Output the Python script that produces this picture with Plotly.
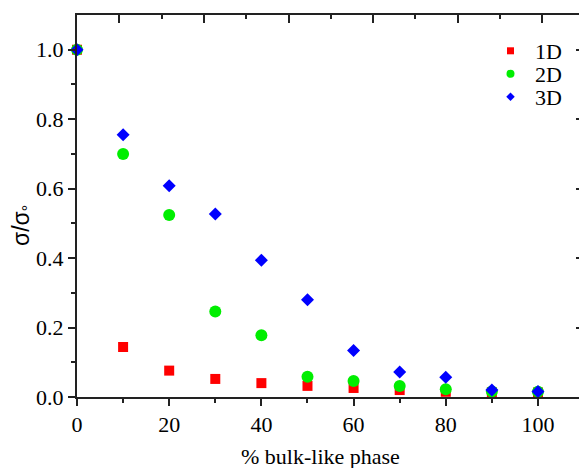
import plotly.graph_objects as go

x_vals = [0, 10, 20, 30, 40, 50, 60, 70, 80, 90, 100]
y_1d = [1.0, 0.144, 0.076, 0.052, 0.040, 0.032, 0.026, 0.020, 0.015, 0.013, 0.013]
y_2d = [1.0, 0.700, 0.524, 0.246, 0.178, 0.058, 0.046, 0.032, 0.022, 0.016, 0.015]
y_3d = [1.0, 0.755, 0.608, 0.527, 0.394, 0.280, 0.134, 0.072, 0.057, 0.020, 0.016]
series_names = ["1D", "2D", "3D"]
colors = ["#ff0000", "#00ee00", "#0000ff"]
symbols = ["square", "circle", "diamond"]
sizes = [10, 12, 10]
legend_sizes = [7, 8, 6.5]

W, H = 579, 468
L, R, T, B = 77, 0, 15, 71
pw = W - L - R
ph = H - T - B


def px_x(px):
    return (px - L) / pw


def px_y(py):
    return (H - B - py) / ph


font_serif = "Liberation Serif"
legend_names = ["legend", "legend2", "legend3"]
legend_rows = [51, 74, 97]

fig = go.Figure()
for name, ys, c, s, sz in zip(series_names, [y_1d, y_2d, y_3d], colors, symbols, sizes):
    fig.add_trace(go.Scatter(x=x_vals, y=ys, mode="markers", name=name, showlegend=False,
                             marker=dict(color=c, symbol=s, size=sz, line=dict(width=0)),
                             cliponaxis=False))
# legend entries (no data) with the smaller legend symbols
for name, c, s, lsz, lg in zip(series_names, colors, symbols, legend_sizes, legend_names):
    fig.add_trace(go.Scatter(x=[None], y=[None], mode="markers", name=name, legend=lg,
                             marker=dict(color=c, symbol=s, size=lsz, line=dict(width=0))))

fig.add_trace(go.Scatter(x=[0], y=[0], xaxis="x2", yaxis="y2", mode="markers",
                         marker=dict(opacity=0), showlegend=False, hoverinfo="skip"))

legend_layout = {}
for lg, row in zip(legend_names, legend_rows):
    legend_layout[lg] = dict(x=px_x(486), y=px_y(row), xanchor="left", yanchor="middle",
                             font=dict(family=font_serif, size=22, color="black"),
                             bgcolor="rgba(0,0,0,0)", itemwidth=39, borderwidth=0)

fig.update_layout(
    width=W, height=H,
    margin=dict(l=L, r=R, t=T, b=B),
    paper_bgcolor="white", plot_bgcolor="white",
    showlegend=True,
    **legend_layout,
    xaxis=dict(range=[0, 108.9], tickvals=[0, 20, 40, 60, 80, 100], ticks="outside",
               ticklen=7, tickwidth=1.5, tickcolor="#222",
               minor=dict(tickvals=[10, 30, 50, 70, 90], ticklen=4, tickwidth=1.5, tickcolor="#222", ticks="outside"),
               showline=True, linecolor="#222", linewidth=2, showgrid=False, zeroline=False,
               tickfont=dict(family=font_serif, size=22, color="black")),
    yaxis=dict(range=[0, 1.1], tickvals=[0, 0.2, 0.4, 0.6, 0.8, 1.0],
               ticktext=["0.0", "0.2", "0.4", "0.6", "0.8", "1.0"], ticks="outside",
               ticklen=7, tickwidth=1.5, tickcolor="#222",
               minor=dict(tickvals=[0.1, 0.3, 0.5, 0.7, 0.9], ticklen=4, tickwidth=1.5, tickcolor="#222", ticks="outside"),
               showline=True, linecolor="#222", linewidth=2, showgrid=False, zeroline=False,
               tickfont=dict(family=font_serif, size=22, color="black")),
    xaxis2=dict(overlaying="x", side="top", range=[0, 502 / 42.3],
                tickvals=[1, 3, 5, 7, 9, 11], ticks="inside", ticklen=8, tickwidth=1.5, tickcolor="#222",
                minor=dict(tickvals=[2, 4, 6, 8, 10], ticklen=4, tickwidth=1.5, tickcolor="#222", ticks="inside"),
                showticklabels=False, showline=True, linecolor="#222", linewidth=2,
                showgrid=False, zeroline=False),
    yaxis2=dict(overlaying="y", side="right", range=[0, 1.1], anchor="x",
                tickvals=[0.2, 0.4, 0.6, 0.8, 1.0], ticks="inside", ticklen=3, tickwidth=1.5,
                tickcolor="#222", showticklabels=False, showline=False,
                showgrid=False, zeroline=False),
    annotations=[
        dict(text="% bulk-like phase", x=px_x(320), y=px_y(456), xref="paper", yref="paper",
             xanchor="center", yanchor="middle",
             showarrow=False, font=dict(family=font_serif, size=22, color="black")),
        dict(text="σ/σ<sub>°</sub>", x=px_x(23), y=px_y(226), xref="paper", yref="paper",
             xanchor="center", yanchor="middle",
             showarrow=False, textangle=-90,
             font=dict(family="Liberation Sans", size=23, color="black")),
    ],
)

fig.write_html("out.html")
